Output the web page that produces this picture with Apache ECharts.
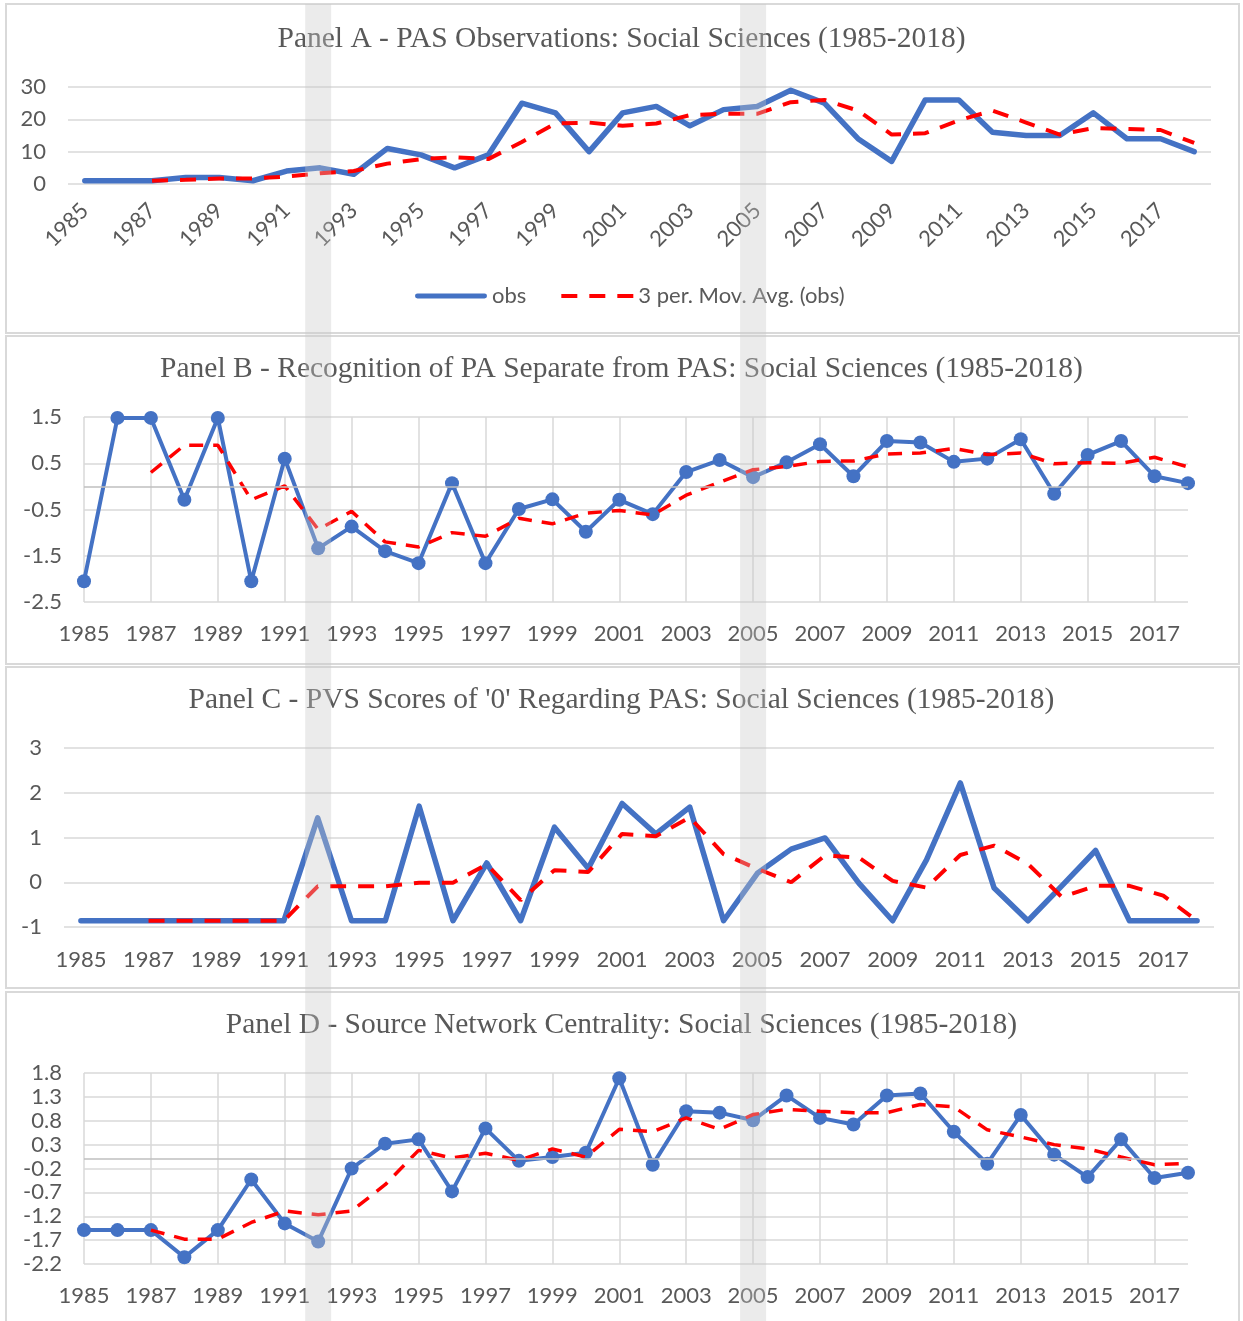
<!DOCTYPE html>
<html>
<head>
<meta charset="utf-8">
<script src="https://cdn.jsdelivr.net/npm/echarts@6/dist/echarts.min.js"></script>
<style>
html,body{margin:0;padding:0;background:#fff;}
#chart{width:1243px;height:1321px;}
</style>
</head>
<body>
<div id="chart"></div>
<script>
// ---------- DATA ----------
const years = ['1985','1986','1987','1988','1989','1990','1991','1992','1993','1994',
               '1995','1996','1997','1998','1999','2000','2001','2002','2003','2004',
               '2005','2006','2007','2008','2009','2010','2011','2012','2013','2014',
               '2015','2016','2017','2018'];

const titleA = 'Panel A - PAS Observations: Social Sciences (1985-2018)';
const titleB = 'Panel B - Recognition of PA Separate from PAS: Social Sciences (1985-2018)';
const titleC = "Panel C - PVS Scores of '0' Regarding PAS: Social Sciences (1985-2018)";
const titleD = 'Panel D - Source Network Centrality: Social Sciences (1985-2018)';

const obsName = 'obs';
const maName = '3 per. Mov. Avg. (obs)';

const panelAObs = [1,1,1,2,2,1,4,5,3,11, 9,5,9,25,22,10,22,24,18,23, 24,29,25,14,7,26,26,16,15,15, 22,14,14,10];
const panelAMA  = [null,null,1,1.3,1.7,1.7,2.3,3.3,4,6.3, 7.7,8.3,7.7,13,18.7,19,18,18.7,21.3,21.7, 21.7,25.3,26,22.7,15.3,15.7,19.7,22.7,19,15.3, 17.3,17,16.7,12.7];

const panelBObs = [-2.05,1.48,1.48,-0.29,1.48,-2.05,0.6,-1.34,-0.87,-1.4, -1.66,0.07,-1.66,-0.49,-0.28,-0.98,-0.29,-0.6,0.31,0.57, 0.2,0.52,0.91,0.22,0.98,0.95,0.53,0.6,1.02,-0.16, 0.68,0.98,0.22,0.07];
const panelBMA  = [null,null,0.3,0.89,0.89,-0.29,0.01,-0.93,-0.54,-1.2, -1.31,-1.0,-1.08,-0.69,-0.81,-0.58,-0.52,-0.62,-0.19,0.09, 0.36,0.43,0.54,0.55,0.7,0.72,0.82,0.69,0.72,0.49, 0.51,0.5,0.63,0.42];

const panelCObs = [-0.86,-0.86,-0.86,-0.86,-0.86,-0.86,-0.86,1.44,-0.86,-0.86, 1.7,-0.86,0.43,-0.86,1.23,0.31,1.76,1.08,1.68,-0.86, 0.2,0.74,0.99,-0.02,-0.86,0.5,2.22,-0.13,-0.86,-0.08, 0.71,-0.86,-0.86,-0.86];
const panelCMA  = [null,null,-0.86,-0.86,-0.86,-0.86,-0.86,-0.09,-0.09,-0.09, -0.01,-0.01,0.4,-0.4,0.27,0.23,1.08,1.03,1.45,0.63, 0.3,0.0,0.6,0.55,0.03,-0.12,0.61,0.82,0.41,-0.33, -0.08,-0.08,-0.3,-0.86];

const panelDObs = [-1.49,-1.49,-1.49,-2.06,-1.49,-0.43,-1.35,-1.73,-0.2,0.32, 0.41,-0.68,0.64,-0.04,0.04,0.13,1.69,-0.12,1.0,0.97, 0.81,1.33,0.86,0.72,1.33,1.37,0.57,-0.1,0.92,0.09, -0.38,0.41,-0.4,-0.29];
const panelDMA  = [null,null,-1.49,-1.68,-1.68,-1.33,-1.09,-1.17,-1.09,-0.54, 0.18,0.02,0.12,-0.03,0.21,0.04,0.62,0.57,0.86,0.62, 0.93,1.04,1.0,0.97,0.97,1.14,1.09,0.61,0.46,0.3, 0.21,0.04,-0.12,-0.09];

const highlightYears = ['1992','2005'];

// ---------- STYLE ----------
const BLUE = '#4472C4';
const RED = '#FF0000';
const GRID_COLOR = '#d9d9d9';
const ZERO_COLOR = '#bfbfbf';
const TEXT = '#595959';
const SANS = 'Lato';
const SERIF = 'Liberation Serif';
const FS = 22;

const chart = echarts.init(document.getElementById('chart'), null, {renderer: 'canvas'});

function mkTitle(text, top) {
  return {
    text: text, left: 'center', top: top,
    textStyle: {fontFamily: SERIF, fontSize: 29.5, fontWeight: 'normal', color: TEXT}
  };
}

function xAxisFor(gridIndex, opts) {
  return Object.assign({
    type: 'category', gridIndex: gridIndex, data: years,
    axisTick: {show: false},
    axisLine: {show: false},
    axisLabel: {interval: 1, fontFamily: SANS, fontSize: FS, color: TEXT, margin: 21},
    splitLine: {show: false}
  }, opts);
}

function yAxisFor(gridIndex, min, max, interval) {
  return {
    type: 'value', gridIndex: gridIndex, min: min, max: max, interval: interval,
    axisLine: {show: false}, axisTick: {show: false},
    axisLabel: {fontFamily: SANS, fontSize: FS, color: TEXT, margin: 22},
    splitLine: {show: true, lineStyle: {color: GRID_COLOR, width: 1.5}}
  };
}

function zeroLine(idx) {
  return {
    name: 'zero', type: 'line', xAxisIndex: idx, yAxisIndex: idx, data: [], z: 1,
    silent: true,
    markLine: {silent: true, symbol: 'none', label: {show: false},
      lineStyle: {color: ZERO_COLOR, width: 1.5, type: 'solid'},
      emphasis: {disabled: true},
      data: [{yAxis: 0}]}
  };
}

function obsSeries(idx, data, width, markers) {
  return {
    name: obsName, type: 'line', xAxisIndex: idx, yAxisIndex: idx, data: data, z: 3,
    symbol: markers ? 'circle' : 'none', symbolSize: 14, showSymbol: !!markers,
    lineStyle: {color: BLUE, width: width, cap: 'round', join: 'round'},
    itemStyle: {color: BLUE},
    emphasis: {disabled: true}, animation: false
  };
}

function maSeries(idx, data, width, dash) {
  return {
    name: maName, type: 'line', xAxisIndex: idx, yAxisIndex: idx, data: data, z: 4,
    symbol: 'none', connectNulls: false,
    lineStyle: {color: RED, width: width, type: dash},
    itemStyle: {color: RED},
    emphasis: {disabled: true}, animation: false
  };
}

const borderBoxes = [
  {x: 6, y: 4, w: 1233, h: 329},
  {x: 6, y: 336, w: 1233, h: 328},
  {x: 6, y: 667, w: 1233, h: 321},
  {x: 6, y: 992, w: 1233, h: 340}
];

function borderGraphics() {
  return borderBoxes.map((b, i) => ({
    type: 'rect', id: 'border' + i, silent: true, z: 0,
    shape: {x: b.x, y: b.y, width: b.w, height: b.h},
    style: {fill: null, stroke: '#d9d9d9', lineWidth: 2}
  }));
}

const option = {
  animation: false,
  backgroundColor: '#ffffff',
  title: [mkTitle(titleA, 19), mkTitle(titleB, 349), mkTitle(titleC, 680), mkTitle(titleD, 1005)],
  legend: {
    data: [
      {name: obsName, icon: 'path://M2,0H70A2.5,2.5,0,0,1,70,5H2A2.5,2.5,0,0,1,2,0Z'},
      {name: maName, icon: 'path://M0,0H16V4H0Z M28,0H44V4H28Z M56,0H72V4H56Z'}
    ],
    left: 410, top: 280,
    itemWidth: 72, itemHeight: 5, itemGap: 35,
    textStyle: {fontFamily: SANS, fontSize: FS, color: TEXT},
    selectedMode: false
  },
  grid: [
    {left: 68, top: 87, width: 1143, height: 97, outerBoundsMode: 'none'},
    {left: 84, top: 417, width: 1104, height: 185, outerBoundsMode: 'none'},
    {left: 64, top: 748, width: 1150, height: 179, outerBoundsMode: 'none'},
    {left: 84, top: 1073, width: 1104, height: 191, outerBoundsMode: 'none'}
  ],
  xAxis: [
    xAxisFor(0, {boundaryGap: true, axisLabel: {interval: 1, rotate: 45, fontFamily: SANS, fontSize: FS, color: TEXT, margin: 23}}),
    xAxisFor(1, {boundaryGap: false, splitLine: {show: true, interval: 1, lineStyle: {color: GRID_COLOR, width: 1.5}}}),
    xAxisFor(2, {boundaryGap: true, axisLabel: {interval: 1, fontFamily: SANS, fontSize: FS, color: TEXT, margin: 22}}),
    xAxisFor(3, {boundaryGap: false, splitLine: {show: true, interval: 1, lineStyle: {color: GRID_COLOR, width: 1.5}}})
  ],
  yAxis: [
    yAxisFor(0, 0, 30, 10),
    yAxisFor(1, -2.5, 1.5, 1),
    yAxisFor(2, -1, 3, 1),
    yAxisFor(3, -2.2, 1.8, 0.5)
  ],
  series: [
    obsSeries(0, panelAObs, 5.5, false),
    maSeries(0, panelAMA, 4, [16, 12]),
    zeroLine(1),
    obsSeries(1, panelBObs, 4, true),
    maSeries(1, panelBMA, 3.5, [14, 10]),
    obsSeries(2, panelCObs, 5.5, false),
    maSeries(2, panelCMA, 4, [16, 12]),
    zeroLine(3),
    obsSeries(3, panelDObs, 4, true),
    maSeries(3, panelDMA, 3.5, [14, 10])
  ],
  graphic: borderGraphics()
};

chart.setOption(option);

// Highlight bands centred on highlighted years (positions from the axis scale)
const bands = highlightYears.map((yr, i) => {
  const cx = chart.convertToPixel({xAxisIndex: 1}, yr);
  return {
    type: 'rect', id: 'band' + i, silent: true, z: 100,
    shape: {x: cx - 13, y: 4, width: 26, height: 1321},
    style: {fill: 'rgba(200,200,200,0.36)'}
  };
});
chart.setOption({graphic: borderGraphics().concat(bands)});
</script>
</body>
</html>
